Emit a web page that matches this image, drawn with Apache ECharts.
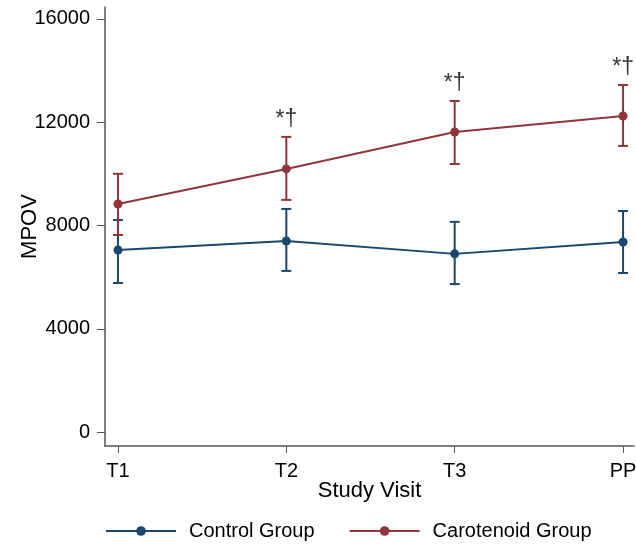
<!DOCTYPE html>
<html>
<head>
<meta charset="utf-8">
<script src="https://cdn.jsdelivr.net/npm/echarts@6/dist/echarts.min.js"></script>
<style>
  html, body { margin: 0; padding: 0; background: #fff; }
  #chart { width: 636px; height: 544px; }
</style>
</head>
<body>
<div id="chart"></div>
<script>
const visits = ['T1', 'T2', 'T3', 'PP']
const controlMean = [7050, 7400, 6900, 7360]
const controlLow = [5770, 6240, 5730, 6160]
const controlHigh = [8210, 8640, 8140, 8560]
const caroMean = [8830, 10190, 11620, 12240]
const caroLow = [7630, 8990, 10380, 11080]
const caroHigh = [10000, 11430, 12820, 13440]
const sigMarks = ['', '*†', '*†', '*†']
const yTicks = [0, 4000, 8000, 12000, 16000]

const navy = '#1a476f'
const maroon = '#90353b'
const font = 'Liberation Sans, Arial, sans-serif'

function errorBars(name, low, high, color) {
  return {
    name: name,
    type: 'custom',
    silent: true,
    data: low.map((l, i) => [i, l, high[i]]),
    renderItem: (params, api) => {
      const x = api.value(0)
      const lo = api.coord([x, api.value(1)])
      const hi = api.coord([x, api.value(2)])
      const half = 5
      const style = { stroke: color, lineWidth: 2 }
      return {
        type: 'group',
        children: [
          { type: 'line', shape: { x1: lo[0], y1: lo[1], x2: hi[0], y2: hi[1] }, style },
          { type: 'line', shape: { x1: lo[0] - half, y1: lo[1], x2: lo[0] + half, y2: lo[1] }, style },
          { type: 'line', shape: { x1: hi[0] - half, y1: hi[1], x2: hi[0] + half, y2: hi[1] }, style }
        ]
      }
    },
    z: 2
  }
}

function lineSeries(name, mean, color) {
  return {
    name: name,
    type: 'line',
    data: mean.map((v, i) => [i, v]),
    symbol: 'circle',
    symbolSize: 9,
    lineStyle: { color: color, width: 2 },
    itemStyle: { color: color },
    z: 3
  }
}

const chart = echarts.init(document.getElementById('chart'))
chart.setOption({
  backgroundColor: '#fff',
  animation: false,
  grid: { left: 105, right: 2, top: 7, bottom: 98, containLabel: false, outerBoundsMode: 'none' },
  xAxis: {
    type: 'value',
    min: -0.077,
    max: 3.065,
    name: 'Study Visit',
    nameLocation: 'middle',
    nameGap: 34,
    nameMoveOverlap: false,
    nameTextStyle: { fontFamily: font, fontSize: 22, color: '#000' },
    axisLine: { show: true, onZero: false, lineStyle: { color: '#555', width: 1.5 } },
    axisTick: { show: true, length: 7, customValues: [0, 1, 2, 3], lineStyle: { color: '#555' } },
    axisLabel: {
      customValues: [0, 1, 2, 3],
      formatter: v => visits[Math.round(v)],
      fontFamily: font,
      fontSize: 20,
      color: '#000',
      margin: 15
    },
    splitLine: { show: false }
  },
  yAxis: {
    type: 'value',
    min: -540,
    max: 16460,
    name: 'MPOV',
    nameLocation: 'middle',
    nameGap: 64,
    nameMoveOverlap: false,
    nameTextStyle: { fontFamily: font, fontSize: 22, color: '#000' },
    axisLine: { show: true, onZero: false, lineStyle: { color: '#555', width: 1.5 } },
    axisTick: { show: true, length: 8, customValues: yTicks, lineStyle: { color: '#555' } },
    axisLabel: {
      customValues: yTicks,
      formatter: v => String(v),
      fontFamily: font,
      fontSize: 20,
      color: '#000',
      margin: 15
    },
    splitLine: { show: false }
  },
  legend: {
    data: ['Control Group', 'Carotenoid Group'],
    left: 100,
    top: 516,
    itemWidth: 70,
    itemHeight: 12,
    itemGap: 34,
    textStyle: { fontFamily: font, fontSize: 20, color: '#000', padding: [0, 0, 0, 8] }
  },
  series: [
    errorBars('Control CI', controlLow, controlHigh, navy),
    errorBars('Carotenoid CI', caroLow, caroHigh, maroon),
    lineSeries('Control Group', controlMean, navy),
    lineSeries('Carotenoid Group', caroMean, maroon),
    {
      name: 'Significance',
      type: 'scatter',
      silent: true,
      symbolSize: 0,
      data: caroHigh.map((v, i) => [i, v]),
      label: {
        show: true,
        position: 'top',
        distance: 6,
        formatter: p => sigMarks[p.dataIndex],
        fontFamily: font,
        fontSize: 23,
        color: '#000'
      }
    }
  ]
})
</script>
</body>
</html>
